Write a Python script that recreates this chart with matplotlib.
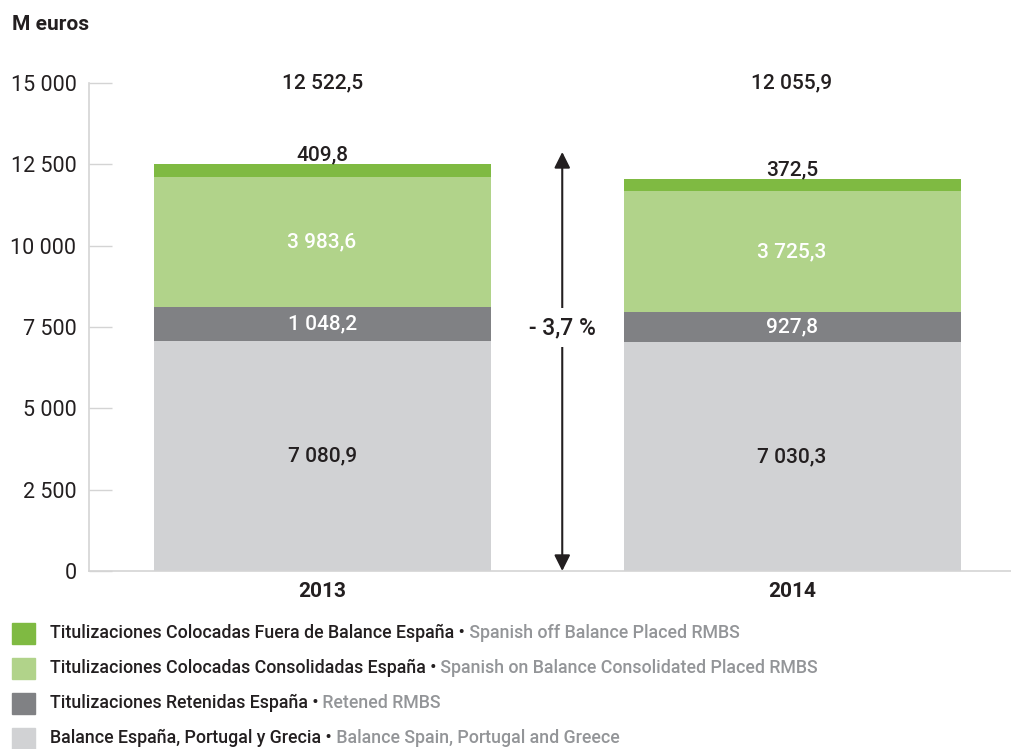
import matplotlib.pyplot as plt

plt.rcParams["font.family"] = ["Roboto", "DejaVu Sans"]

# Data (M euros)
years = ["2013", "2014"]
balance = [7080.9, 7030.3]
retenidas = [1048.2, 927.8]
consolidadas = [3983.6, 3725.3]
fuera_balance = [409.8, 372.5]
totals = [12522.5, 12055.9]
change_label = "- 3,7 %"

series_es = [
    "Titulizaciones Colocadas Fuera de Balance España",
    "Titulizaciones Colocadas Consolidadas España",
    "Titulizaciones Retenidas España",
    "Balance España, Portugal y Grecia",
]
series_en = [
    "Spanish off Balance Placed RMBS",
    "Spanish on Balance Consolidated Placed RMBS",
    "Retened RMBS",
    "Balance Spain, Portugal and Greece",
]

c_light_gray = "#d1d2d4"
c_dark_gray = "#808184"
c_light_green = "#b1d38a"
c_green = "#7fba42"
c_text = "#231f20"
c_note = "#939598"
c_axis = "#d4d4d4"


def fmt(v):
    # Spanish style: space thousands, comma decimals
    return f"{v:,.1f}".replace(",", " ").replace(".", ",")


fig = plt.figure(figsize=(10.12, 7.49), dpi=100)
ax = fig.add_axes([89 / 1012, 1 - 571 / 749, 1 - 89 / 1012, (571 - 83) / 749])

x = [0, 1]
w = 0.717
b1 = balance
b2 = [a + b for a, b in zip(b1, retenidas)]
b3 = [a + b for a, b in zip(b2, consolidadas)]

ax.bar(x, balance, w, color=c_light_gray)
ax.bar(x, retenidas, w, bottom=b1, color=c_dark_gray)
ax.bar(x, consolidadas, w, bottom=b2, color=c_light_green)
ax.bar(x, fuera_balance, w, bottom=b3, color=c_green)

ax.set_xlim(-0.496, 1.468)
ax.set_ylim(0, 15000)

# segment labels
lbl = dict(ha="center", va="center", fontsize=15, fontweight="medium")
for i in x:
    ax.text(i, balance[i] / 2, fmt(balance[i]), color=c_text, **lbl)
    ax.text(i, b1[i] + retenidas[i] / 2, fmt(retenidas[i]), color="white", **lbl)
    ax.text(i, b2[i] + consolidadas[i] / 2, fmt(consolidadas[i]), color="white", **lbl)
    ax.text(i, totals[i] + 280, fmt(fuera_balance[i]), color=c_text, **lbl)
    ax.text(i, 15000, fmt(totals[i]), color=c_text, clip_on=False, **lbl)

# change arrow
ax.annotate("", xy=(0.511, 0), xytext=(0.511, 12880),
            arrowprops=dict(arrowstyle="<|-|>", color=c_text, lw=1.5,
                            mutation_scale=24, shrinkA=0, shrinkB=0))
ax.text(0.511, 7480, change_label, ha="center", va="center", fontsize=16.5,
        fontweight="medium", color=c_text,
        bbox=dict(facecolor="white", edgecolor="none", pad=6))

# axes styling
ax.set_yticks([0, 2500, 5000, 7500, 10000, 12500, 15000])
ax.set_yticklabels(["0", "2 500", "5 000", "7 500", "10 000", "12 500", "15 000"])
ax.set_xticks(x)
ax.set_xticklabels(years, fontsize=15, color=c_text, fontweight="bold")
ax.tick_params(axis="x", length=0, pad=8)
ax.tick_params(axis="y", direction="in", length=16.5, width=1, color=c_axis,
               labelsize=15.5, labelcolor=c_text, pad=9)
for side in ["top", "right"]:
    ax.spines[side].set_visible(False)
for side in ["left", "bottom"]:
    ax.spines[side].set_color(c_axis)
    ax.spines[side].set_linewidth(1.2)

fig.text(12 / 1012, 1 - 24 / 749, "M euros", fontsize=15, fontweight="bold",
         color=c_text, va="center")

# legend built by hand (two-tone text)
colors = [c_green, c_light_green, c_dark_gray, c_light_gray]
rows_y = [633, 668, 703, 738]
for col, es, en, ry in zip(colors, series_es, series_en, rows_y):
    fig.patches.append(plt.Rectangle((12 / 1012, 1 - (ry + 11) / 749), 23 / 1012, 21 / 749,
                                     transform=fig.transFigure, color=col))
    t = fig.text(50 / 1012, 1 - ry / 749, es + " \u2022", fontsize=12.8,
                 fontweight="medium", color=c_text, va="center")
    ax.annotate(" " + en, xy=(1, 0), xycoords=t, va="bottom", fontsize=12.8,
                fontweight="medium", color=c_note, annotation_clip=False)

fig.savefig("out.png", dpi=100)
